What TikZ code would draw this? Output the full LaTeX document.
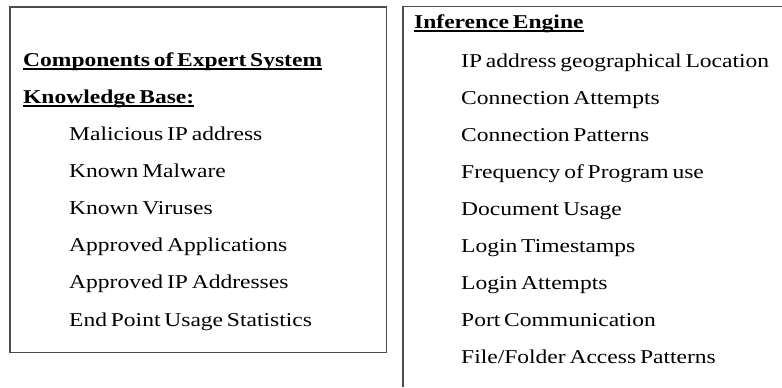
\documentclass[tikz,border=0pt]{standalone}
\usepackage{fontspec}
\setmainfont{Liberation Serif}[FakeStretch=1.2,WordSpace=0.65]
\newcommand\ulhead[1]{\setbox0\hbox{#1}\rlap{\rule[-3.6bp]{\wd0}{1.4bp}}\box0}
\begin{document}
\begin{tikzpicture}[x=1bp,y=-1bp,
    item/.style={anchor=base west,inner sep=0pt,font=\fontsize{19.6bp}{22bp}\selectfont},
    heading/.style={item,font=\fontsize{19.6bp}{22bp}\selectfont\bfseries}]
        \useasboundingbox (0,0) rectangle (782,387);
        % boxes
        \draw[black!70,line width=1.2bp] (10,7) rectangle (386.5,352.7);
        \draw[black!70,line width=1.2bp] (782,6.7) -- (403,6.7) -- (403,387);
        % knowledge base
        \node[heading] (comp) at (23,66) {\ulhead{Components of Expert System}};
        \node[heading] (kb) at (23,103) {\ulhead{Knowledge Base:}};
        \node[item] (kb1) at (69,140) {Malicious IP address};
        \node[item] (kb2) at (69,177.2) {Known Malware};
        \node[item] (kb3) at (69,214.4) {Known Viruses};
        \node[item] (kb4) at (69,251.6) {Approved Applications};
        \node[item] (kb5) at (69,288.8) {Approved IP Addresses};
        \node[item] (kb6) at (69,326) {End Point Usage Statistics};
        % inference engine
        \node[heading] (ie) at (414,28) {\ulhead{Inference Engine}};
        \node[item] (ie1) at (461,67) {IP address geographical Location};
        \node[item] (ie2) at (461,104) {Connection Attempts};
        \node[item] (ie3) at (461,141) {Connection Patterns};
        \node[item] (ie4) at (461,178) {Frequency of Program use};
        \node[item] (ie5) at (461,215) {Document Usage};
        \node[item] (ie6) at (461,252) {Login Timestamps};
        \node[item] (ie7) at (461,289) {Login Attempts};
        \node[item] (ie8) at (461,326) {Port Communication};
        \node[item] (ie9) at (461,363) {File/Folder Access Patterns};
    \end{tikzpicture}
\end{document}
